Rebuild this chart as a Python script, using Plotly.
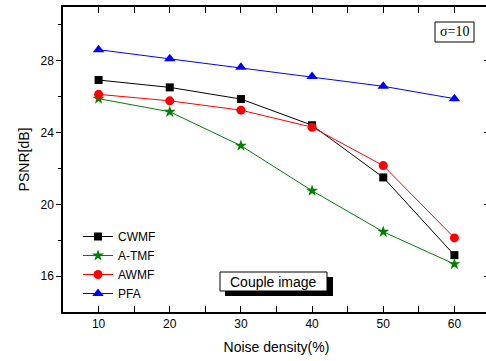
import plotly.graph_objects as go

noise = [10, 20, 30, 40, 50, 60]
cwmf = [26.93, 26.52, 25.87, 24.41, 21.5, 17.17]
atmf = [25.89, 25.16, 23.27, 20.76, 18.47, 16.67]
awmf = [26.13, 25.77, 25.25, 24.3, 22.16, 18.13]
pfa = [28.62, 28.11, 27.64, 27.12, 26.58, 25.89]

W, H = 491, 361
L, R, T, B = 63, 490, 7, 312
def px(x):
    return (x - L) / (R - L)
def py(y):
    return (B - y) / (B - T)

fig = go.Figure()
series = [
    ("CWMF", cwmf, "black", "square", 8),
    ("A-TMF", atmf, "green", "star", 9),
    ("AWMF", awmf, "red", "circle", 9),
    ("PFA", pfa, "blue", "triangle-up", 10),
]
for name, ys, col, sym, sz in series:
    fig.add_trace(go.Scatter(x=noise, y=ys, name=name, mode="lines+markers",
                             line=dict(color=col, width=1),
                             marker=dict(color=col, symbol=sym, size=sz)))

fig.add_trace(go.Scatter(x=[None], y=[None], yaxis="y2", showlegend=False))

axfont = dict(family="Arial, Liberation Sans", size=12, color="black")
fig.update_layout(
    width=W, height=H,
    margin=dict(l=L, r=W - R, t=T, b=H - B, autoexpand=False),
    plot_bgcolor="white", paper_bgcolor="white",
    font=axfont,
    xaxis=dict(range=[5, 65], tickvals=[10, 20, 30, 40, 50, 60], automargin=False,
               ticks="inside", ticklen=6, tickwidth=1, tickcolor="black",
               minor=dict(tickvals=[15, 25, 35, 45, 55], ticks="inside", ticklen=3, tickcolor="black"),
               showline=True, linecolor="black", linewidth=1.5, mirror="allticks",
               showgrid=False, zeroline=False,
               title=dict(text="Noise density(%)", font=dict(size=14), standoff=12)),
    yaxis=dict(range=[14, 31], tickvals=[16, 20, 24, 28], automargin=False,
               ticks="outside", ticklen=5, tickwidth=1, tickcolor="black",
               minor=dict(tickvals=[18, 22, 26, 30], ticks="outside", ticklen=3, tickcolor="black"),
               showline=True, linecolor="black", linewidth=1.5, mirror=True,
               showgrid=False, zeroline=False,
               title=dict(text="PSNR[dB]", font=dict(size=14), standoff=8)),
    yaxis2=dict(range=[14, 31], overlaying="y", side="right", tickvals=[16, 20, 24, 28],
                automargin=False,
                ticks="inside", ticklen=6, tickcolor="black", showticklabels=False,
                minor=dict(tickvals=[18, 22, 26, 30], ticks="inside", ticklen=3, tickcolor="black"),
                showgrid=False, zeroline=False, showline=False),
    legend=dict(x=px(78), y=py(265), xanchor="left", yanchor="middle",
                bgcolor="rgba(0,0,0,0)", font=dict(size=12), itemwidth=30,
                tracegroupgap=0),
    showlegend=True,
)

# "Couple image" box with drop shadow
fig.add_shape(type="rect", xref="paper", yref="paper",
              x0=px(225), x1=px(333), y0=py(296), y1=py(277),
              fillcolor="black", line=dict(width=0))
fig.add_shape(type="rect", xref="paper", yref="paper",
              x0=px(220), x1=px(327), y0=py(291), y1=py(272),
              fillcolor="white", line=dict(color="black", width=1))
fig.add_annotation(xref="paper", yref="paper", x=px(273.5), y=py(281.5),
                   xanchor="center", yanchor="middle",
                   text="Couple image", showarrow=False,
                   font=dict(family="Arial, Liberation Sans", size=14, color="black"))

# sigma box
fig.add_shape(type="rect", xref="paper", yref="paper",
              x0=px(435), x1=px(474), y0=py(42), y1=py(22),
              fillcolor="white", line=dict(color="black", width=1))
fig.add_annotation(xref="paper", yref="paper", x=px(454.5), y=py(32),
                   xanchor="center", yanchor="middle",
                   text="σ=10", showarrow=False,
                   font=dict(family="Liberation Serif, Times New Roman", size=14, color="black"))

fig.write_html("out.html", config={"displayModeBar": False},
               post_script="document.body.style.margin='0';document.body.style.overflow='hidden';")
